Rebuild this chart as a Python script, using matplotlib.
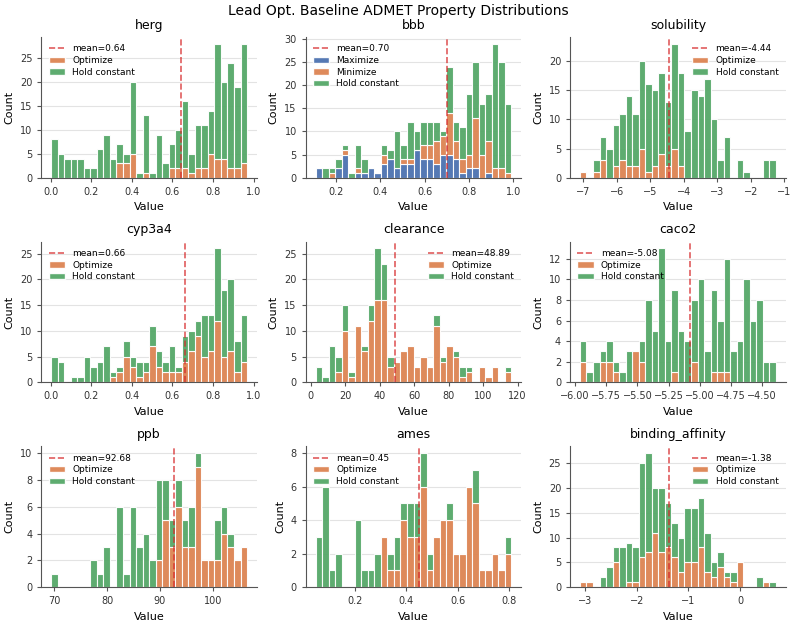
import numpy as np
import matplotlib
matplotlib.use("Agg")
import matplotlib.pyplot as plt
from matplotlib.patches import Patch
from matplotlib.lines import Line2D

# colours (seaborn deep)
BLUE = "#4C72B0"
ORANGE = "#DD8452"
GREEN = "#55A868"
RED = "#d62728"

# per property: value range, mean, counts per bin (30 bins)
props = ["herg", "bbb", "solubility", "cyp3a4", "clearance", "caco2", "ppb", "ames", "binding_affinity"]

ranges = {
    "herg": (0.003, 0.967),
    "bbb": (0.109, 0.991),
    "solubility": (-7.10, -1.25),
    "cyp3a4": (0.003, 0.967),
    "clearance": (2.9, 116.5),
    "caco2": (-5.96, -4.39),
    "ppb": (69.4, 106.5),
    "ames": (0.047, 0.808),
    "binding_affinity": (-3.10, 0.694),
}

means = {
    "herg": 0.64, "bbb": 0.70, "solubility": -4.44, "cyp3a4": 0.66,
    "clearance": 48.89, "caco2": -5.08, "ppb": 92.68, "ames": 0.45,
    "binding_affinity": -1.38,
}

herg_opt = [0,0,0,0,0,0,0,0,0,0,3,3,5,0,1,0,0,0,2,2,2,1,2,2,5,4,4,2,2,3]
herg_hold = [8,5,4,4,4,2,2,6,9,4,4,2,15,1,12,1,9,3,5,8,14,4,9,9,9,24,16,22,17,25]

bbb_max = [2,0,0,2,5,0,1,1,2,1,3,4,2,3,3,6,4,4,3,5,5,4,1,2,2,0,1,0,0,0]
bbb_min = [0,0,1,0,1,0,1,0,0,0,2,0,0,1,1,0,3,3,5,4,9,4,3,3,11,5,7,2,2,1]
bbb_hold = [0,2,1,2,1,1,5,3,0,0,2,2,8,3,8,4,5,5,4,1,10,4,7,13,12,11,10,27,23,15]

sol_opt = [1,0,1,3,0,2,3,2,2,5,1,2,4,2,5,2,0,0,0,0,0,0,0,0,0,0,0,0,0,0]
sol_hold = [0,0,2,4,5,7,8,12,9,15,15,13,14,11,18,16,8,15,14,17,10,3,7,0,3,1,0,0,3,3]

cyp_opt = [0,0,0,0,0,0,0,0,0,1,2,5,3,1,2,7,3,2,2,2,4,6,9,5,6,12,5,6,2,4]
cyp_hold = [5,4,0,1,1,5,3,4,7,1,1,3,2,3,2,4,3,2,5,1,5,4,3,8,7,14,13,14,6,9]

clr_opt = [0,0,0,2,10,1,11,6,12,16,16,3,4,6,7,3,5,3,11,4,7,5,1,2,0,3,1,3,0,2]
clr_hold = [3,1,7,3,5,1,0,1,3,10,7,2,0,0,0,0,0,0,2,1,0,1,2,1,0,0,0,0,0,1]

caco_opt = [2,0,0,2,2,1,0,0,3,2,0,0,0,0,1,0,0,2,0,0,1,1,1,0,0,0,0,0,0,0]
caco_hold = [2,1,2,1,2,1,1,3,0,2,8,5,13,4,8,5,4,6,10,3,8,5,11,3,4,10,6,8,2,2]

ppb_opt = [0,0,0,0,0,0,0,0,0,0,0,0,0,0,0,0,2,5,3,6,3,3,9,2,2,2,4,3,2,3]
ppb_hold = [1,0,0,0,0,0,2,1,3,0,6,1,6,3,4,2,6,3,2,2,2,3,1,0,0,3,2,1,0,0]

ames_opt = [0,0,0,0,0,0,0,0,0,0,3,1,1,4,3,3,6,1,3,4,4,2,2,6,5,1,1,2,1,2]
ames_hold = [3,6,1,2,0,0,4,1,1,2,0,1,2,1,2,2,2,1,0,0,1,0,0,0,2,0,0,0,0,1]

ba_opt = [1,1,0,0,0,5,0,1,1,6,7,11,7,8,6,3,5,5,8,3,2,4,2,1,5,0,0,0,1,0]
ba_hold = [0,0,0,2,4,3,8,8,7,19,20,9,13,9,7,7,11,11,10,8,3,3,1,2,0,0,0,2,0,1]

# stacked layers bottom -> top
layers = {
    "herg": [("Optimize", ORANGE, herg_opt), ("Hold constant", GREEN, herg_hold)],
    "bbb": [("Maximize", BLUE, bbb_max), ("Minimize", ORANGE, bbb_min), ("Hold constant", GREEN, bbb_hold)],
    "solubility": [("Optimize", ORANGE, sol_opt), ("Hold constant", GREEN, sol_hold)],
    "cyp3a4": [("Optimize", ORANGE, cyp_opt), ("Hold constant", GREEN, cyp_hold)],
    "clearance": [("Optimize", ORANGE, clr_opt), ("Hold constant", GREEN, clr_hold)],
    "caco2": [("Optimize", ORANGE, caco_opt), ("Hold constant", GREEN, caco_hold)],
    "ppb": [("Optimize", ORANGE, ppb_opt), ("Hold constant", GREEN, ppb_hold)],
    "ames": [("Optimize", ORANGE, ames_opt), ("Hold constant", GREEN, ames_hold)],
    "binding_affinity": [("Optimize", ORANGE, ba_opt), ("Hold constant", GREEN, ba_hold)],
}

legend_loc = {
    "herg": "upper left", "bbb": "upper left", "solubility": "upper right",
    "cyp3a4": "upper left", "clearance": "upper right", "caco2": "upper left",
    "ppb": "upper left", "ames": "upper left", "binding_affinity": "upper right",
}

plt.rcParams["font.family"] = ["DejaVu Sans"]
plt.rcParams["axes.edgecolor"] = "#555555"
plt.rcParams["xtick.color"] = "#555555"
plt.rcParams["ytick.color"] = "#555555"
plt.rcParams["xtick.labelcolor"] = "#333333"
plt.rcParams["ytick.labelcolor"] = "#333333"

fig, axes = plt.subplots(3, 3, figsize=(7.96, 6.26), dpi=100)
fig.subplots_adjust(left=0.052, right=0.987, top=0.941, bottom=0.062, wspace=0.227, hspace=0.455)

for ax, name in zip(axes.flat, props):
    lo, hi = ranges[name]
    edges = np.linspace(lo, hi, 31)
    width = edges[1] - edges[0]
    bottom = np.zeros(30)
    handles = [Line2D([0], [0], color=RED, ls="--", lw=1.2, alpha=0.75,
                      label=f"mean={means[name]:.2f}")]
    for label, color, counts in layers[name]:
        counts = np.array(counts)
        ax.bar(edges[:-1], counts, width=width, bottom=bottom, align="edge",
               color=color, edgecolor="white", linewidth=0.8, alpha=0.95)
        bottom = bottom + counts
        handles.append(Patch(facecolor=color, edgecolor="white", alpha=0.95, label=label))
    ax.axvline(means[name], color=RED, ls="--", lw=1.2, alpha=0.75)

    ax.set_title(name, fontsize=9)
    ax.set_xlabel("Value", fontsize=8)
    ax.set_ylabel("Count", fontsize=8)
    ax.tick_params(labelsize=7, length=3, width=0.8)
    ax.grid(axis="y", color="#e3e3e3", lw=0.8)
    ax.set_axisbelow(True)
    for s in ["top", "right"]:
        ax.spines[s].set_visible(False)
    ax.legend(handles=handles, loc=legend_loc[name], fontsize=6.5, frameon=False,
              handlelength=1.8, labelspacing=0.3, borderaxespad=0.4)

fig.suptitle("Lead Opt. Baseline ADMET Property Distributions", fontsize=10, y=0.993)

plt.savefig("out.png", dpi=100)
